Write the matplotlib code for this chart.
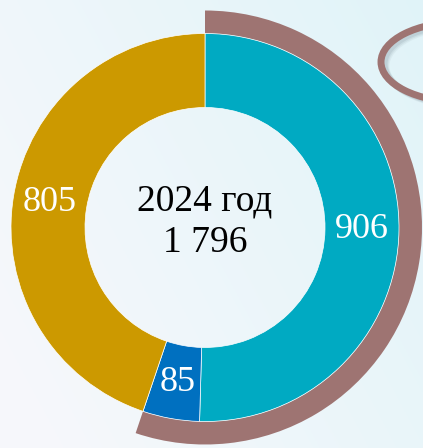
import numpy as np
import matplotlib.pyplot as plt
import matplotlib.font_manager as fm
from matplotlib.patches import Ellipse

# Times-like serif font, picked by file so nothing falls back to sans
serif_files = [f.fname for f in fm.fontManager.ttflist
               if f.name == "Liberation Serif" and f.style == "normal" and f.weight in (400, "normal", "regular")]
if serif_files:
    serif = fm.FontProperties(fname=serif_files[0])
else:
    serif = fm.FontProperties(family="DejaVu Serif")

# data
categories = ["A", "B", "C"]
values = [906, 85, 805]
colors = ["#00AAC2", "#0070C0", "#CC9900"]
year_label = "2024 год"
total_label = "1 796"
arc_color = "#9E7472"

total = sum(values)

fig = plt.figure(figsize=(4.23, 4.48), dpi=100)
ax = fig.add_axes([0, 0, 1, 1])

# soft background gradient (white-ish left -> light cyan right)
gx = np.linspace(0, 1, 200)
gy = np.linspace(0, 1, 200)
X, Y = np.meshgrid(gx, gy)
t = np.clip(0.7 * X + 0.4 * Y - 0.1, 0, 1)
c0 = np.array([0.965, 0.972, 0.985])
c1 = np.array([0.88, 0.955, 0.975])
bg = c0[None, None, :] * (1 - t[..., None]) + c1[None, None, :] * t[..., None]
ax.imshow(bg, extent=[0, 423, 0, 448], origin="lower", zorder=0, aspect="auto")

# decorative ring top right, with a soft shadow
for k, a in [(4, 0.05), (3, 0.07), (2, 0.09)]:
    ax.add_patch(Ellipse((462 + k, 386 - k), 160, 80, fill=False, lw=5,
                         ec=(0.2, 0.3, 0.35, a), zorder=1))
ax.add_patch(Ellipse((461, 386), 160, 80, fill=False, lw=5, ec=arc_color, zorder=2))

center = (205, 220.5)

# outer arc: first two segments together
ax.pie([values[0] + values[1], values[2]], colors=[arc_color, "none"],
       startangle=90, counterclock=False, center=center, radius=217,
       wedgeprops=dict(width=23, linewidth=0), frame=True)

# main donut
wedges, texts, autotexts = ax.pie(
    values, colors=colors, startangle=90, counterclock=False,
    center=center, radius=194,
    wedgeprops=dict(width=74, edgecolor="white", linewidth=0.5),
    autopct=lambda p: f"{round(p * total / 100)}", pctdistance=0.81,
    frame=True)
for t_ in autotexts:
    t_.set_fontproperties(serif)
    t_.set_fontsize(26)
    t_.set_color("white")

ax.set_xlim(0, 423)
ax.set_ylim(0, 448)
ax.set_aspect("equal")
ax.axis("off")

ax.text(center[0], 448 - 201, year_label, ha="center", va="center",
        fontproperties=serif, fontsize=27, color="black")
ax.text(center[0], 448 - 243, total_label, ha="center", va="center",
        fontproperties=serif, fontsize=27, color="black")

fig.savefig("out.png", dpi=100)
